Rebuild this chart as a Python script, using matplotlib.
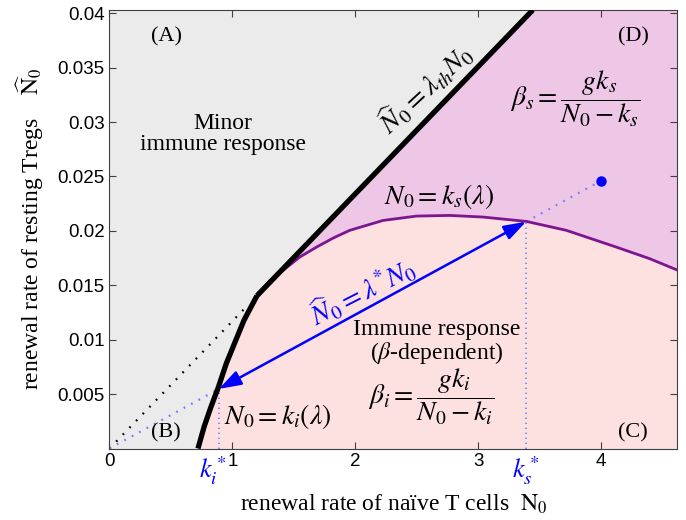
import numpy as np
import matplotlib
matplotlib.use('Agg')
import matplotlib.pyplot as plt

plt.rcParams['mathtext.fontset'] = 'stix'
plt.rcParams['font.family'] = ['Liberation Serif', 'DejaVu Serif']

# valores
lam_th = 0.0117
lam_star = 0.00615
ki_star = 0.89
ks_star = 3.39
punto_x = 4.0

ki_x = np.array([0.72, 0.77, 0.825, 0.885, 0.95, 1.015, 1.095, 1.2])
ki_y = np.array([0.0, 0.0020, 0.0038, 0.0056, 0.0078, 0.0096, 0.0118, 0.01404])

ks_x = np.array([1.2, 1.307, 1.413, 1.549, 1.685, 1.82, 1.955, 2.226, 2.498,
                 2.768, 3.039, 3.392, 3.717, 4.124, 4.394, 4.62])
ks_y = np.array([0.01404, 0.01544, 0.01638, 0.0176, 0.01851, 0.01934, 0.02005,
                 0.02096, 0.02136, 0.02142, 0.02127, 0.02087, 0.02005, 0.01851,
                 0.01745, 0.0164])

xticks = [0, 1, 2, 3, 4]
yticks = [0.005, 0.01, 0.015, 0.02, 0.025, 0.03, 0.035, 0.04]
ytick_labels = ['0.005', '0.01', '0.015', '0.02', '0.025', '0.03', '0.035', '0.04']

xmax = 4.62
ymax = 0.0403

fig = plt.figure(figsize=(6.86, 5.2), dpi=100)
ax = fig.add_axes([0.1596, 0.1375, 0.9873 - 0.1596, 0.9808 - 0.1375])
ax.set_facecolor('#ebebeb')

# regiones
xtop = ymax / lam_th
dx = np.concatenate([[ks_x[0], xtop, xmax, xmax], ks_x[::-1]])
dy = np.concatenate([[ks_y[0], ymax, ymax, ks_y[-1]], ks_y[::-1]])
ax.fill(dx, dy, color='#eec7e7', lw=0, zorder=1)

cx = np.concatenate([ki_x, ks_x[1:], [xmax, xmax]])
cy = np.concatenate([ki_y, ks_y[1:], [ks_y[-1], 0]])
ax.fill(cx, cy, color='#fde0e0', lw=0, zorder=1)

# lineas punteadas
ax.plot([0, 1.12], [0, lam_th * 1.12], color='black', lw=1.6,
        ls=(0, (0.8, 3.5)), zorder=2)
azul_claro = '#7a7aff'
ax.plot([0, ki_star], [0, lam_star * ki_star], color=azul_claro, lw=1.6,
        ls=(0, (0.8, 3)), zorder=2)
ax.plot([ks_star, punto_x], [lam_star * ks_star, lam_star * punto_x],
        color=azul_claro, lw=1.6, ls=(0, (0.8, 3)), zorder=2)
ax.plot([ki_star, ki_star], [0, lam_star * ki_star], color=azul_claro, lw=1.2,
        ls=(0, (0.8, 2.2)), zorder=2)
ax.plot([ks_star, ks_star], [0, lam_star * ks_star], color=azul_claro, lw=1.2,
        ls=(0, (0.8, 2.2)), zorder=2)
ax.plot([punto_x], [lam_star * punto_x], 'o', color='blue', ms=6.5, zorder=5)

# curvas
ax.plot(ks_x, ks_y, color='#7d1590', lw=2.0, zorder=3)
ax.plot(ki_x, ki_y, color='black', lw=3.8, solid_capstyle='butt', zorder=4)
ax.plot([ki_x[-1], xtop], [ki_y[-1], ymax], color='black', lw=3.8,
        solid_capstyle='butt', zorder=4)

ax.annotate('', xy=(ki_star, lam_star * ki_star), xytext=(ks_star, lam_star * ks_star),
            arrowprops=dict(arrowstyle='<|-|>,head_length=0.9,head_width=0.3',
                            color='blue', lw=1.8, shrinkA=0, shrinkB=0,
                            mutation_scale=15), zorder=5)

# textos
fs = 16
ax.text(0.465, 0.0378, '(A)', fontsize=fs, ha='center', va='center')
ax.text(4.26, 0.0378, '(D)', fontsize=fs, ha='center', va='center')
ax.text(0.457, 0.00145, '(B)', fontsize=fs, ha='center', va='center')
ax.text(4.26, 0.0014, '(C)', fontsize=fs, ha='center', va='center')
ax.text(0.92, 0.0289, 'Minor\nimmune response', fontsize=17, ha='center',
        va='center', linespacing=1.0)
ax.text(2.66, 0.0097, 'Immune response\n($\\beta$-dependent)', fontsize=17,
        ha='center', va='center', linespacing=1.0)
ms = 20
ax.text(2.62, 0.0047, r'$\beta_i=\dfrac{gk_i}{N_0-k_i}$', fontsize=ms,
        ha='center', va='center')
ax.text(3.79, 0.0321, r'$\beta_s=\dfrac{gk_s}{N_0-k_s}$', fontsize=ms,
        ha='center', va='center')
ax.text(1.37, 0.0029, r'$N_0=k_i(\lambda)$', fontsize=ms, ha='center', va='center')
ax.text(2.68, 0.0232, r'$N_0=k_s(\lambda)$', fontsize=ms, ha='center', va='center')
ax.text(2.57, 0.0331, r'$\widehat{N}_0=\lambda_{th}N_0$', fontsize=ms,
        ha='center', va='center', rotation=43)
ax.text(2.06, 0.01445, r'$\widehat{N}_0=\lambda^{*}N_0$', fontsize=ms,
        ha='center', va='center', rotation=27, color='blue')

trans = ax.get_xaxis_transform()
ax.text(ki_star - 0.05, -0.05, r'$k_i^*$', transform=trans, fontsize=19,
        color='blue', ha='center', va='center')
ax.text(ks_star, -0.05, r'$k_s^*$', transform=trans, fontsize=19, color='blue',
        ha='center', va='center')

ax.set_xlim(0, xmax)
ax.set_ylim(0, ymax)
ax.set_xticks(xticks)
ax.set_xticklabels([str(t) for t in xticks], family='Liberation Sans', fontsize=13.5)
ax.set_yticks(yticks)
ax.set_yticklabels(ytick_labels, family='Liberation Sans', fontsize=13.5)
ax.tick_params(direction='in', top=True, right=True, length=5, width=0.8,
               color='#404040')
for s in ax.spines.values():
    s.set_color('#404040')
    s.set_linewidth(0.8)

ax.set_xlabel(r'renewal rate of naïve T cells  $\mathrm{N}_0$', fontsize=17, labelpad=16)
ax.set_ylabel(r'renewal rate of resting Tregs    $\widehat{\mathrm{N}}_0$', fontsize=17,
              labelpad=8)

fig.savefig('out.png', dpi=100)
